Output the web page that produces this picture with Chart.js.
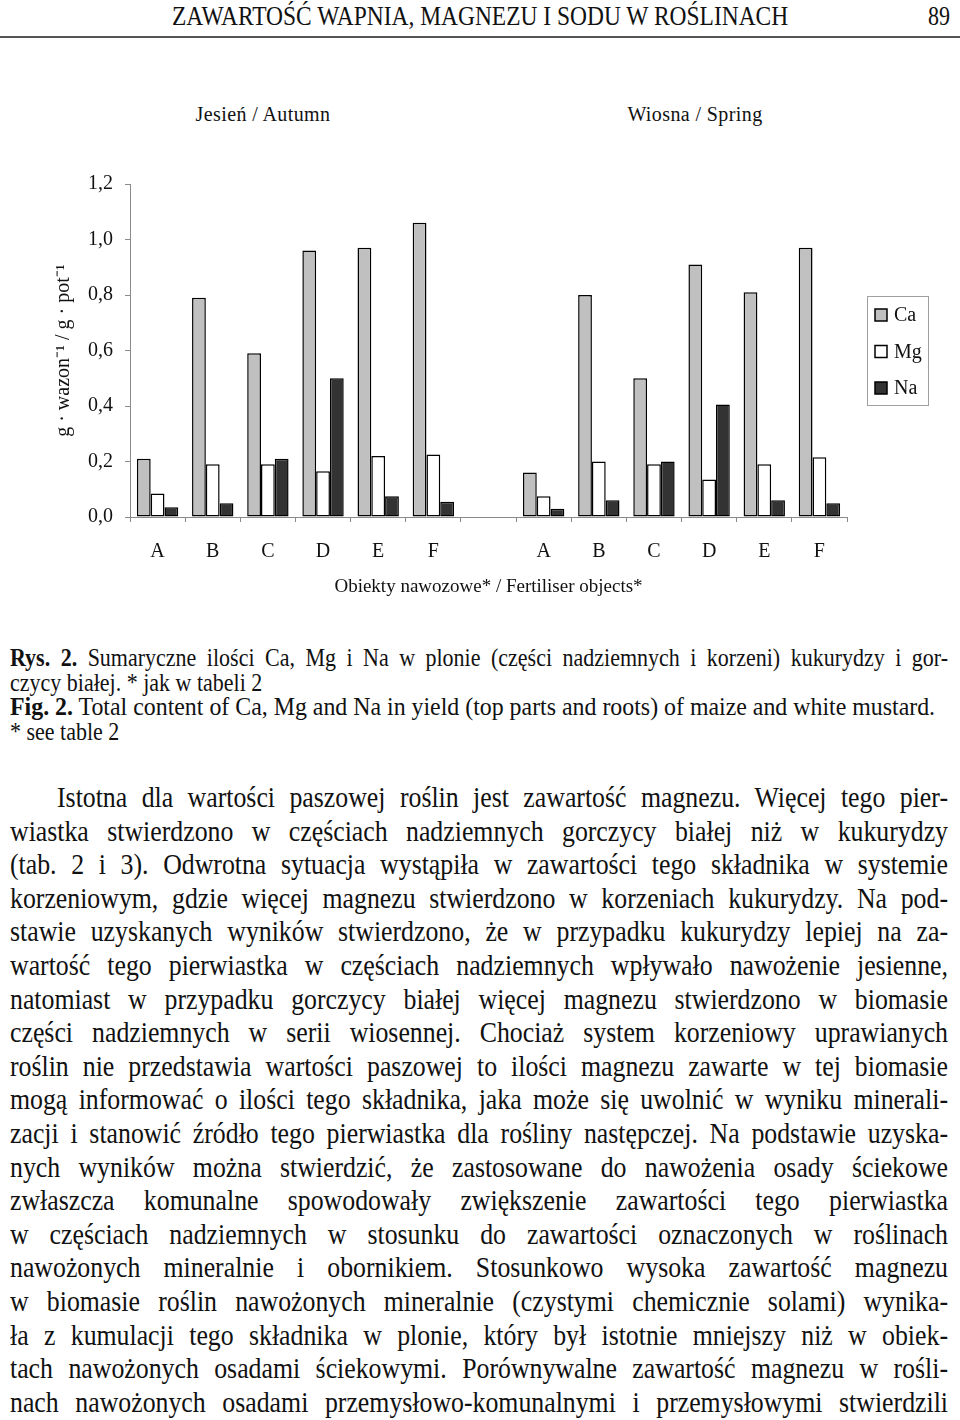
<!DOCTYPE html>
<html lang="pl">
<head>
<meta charset="utf-8">
<script src="https://cdn.jsdelivr.net/npm/chart.js@4.4.1/dist/chart.umd.min.js"></script>
<style>
  html, body { margin: 0; padding: 0; background: #fff; }
  body { width: 960px; height: 1420px; position: relative; overflow: hidden;
         font-family: "Liberation Serif", "Times New Roman", serif; color: #111; }
  .ln { position: absolute; white-space: nowrap; display: inline-block; transform-origin: 0 50%; }
  .center { position: absolute; white-space: nowrap; transform: translateX(-50%); }
  #rule { position: absolute; left: 0; top: 36px; width: 960px; height: 2px; background: #555; }
  #chartBox { position: absolute; left: 0; top: 150px; width: 960px; height: 460px; }
</style>
</head>
<body>
<div id="rule"></div>
<div class="center" style="left:263px;top:103px;font-size:20px;letter-spacing:0.4px">Jesień / Autumn</div>
<div class="center" style="left:695px;top:103px;font-size:20px;letter-spacing:0.4px">Wiosna / Spring</div>
<div id="chartBox"><canvas id="chart"></canvas></div>
<div id="text"></div>

<script>
// fertiliser objects, autumn A-F, an empty gap slot, spring A-F
const categories = ["A", "B", "C", "D", "E", "F", "", "A", "B", "C", "D", "E", "F"];
const caValues = [0.21, 0.79, 0.59, 0.96, 0.97, 1.06, null, 0.16, 0.80, 0.50, 0.91, 0.81, 0.97];
const mgValues = [0.085, 0.19, 0.19, 0.165, 0.22, 0.225, null, 0.075, 0.20, 0.19, 0.135, 0.19, 0.215];
const naValues = [0.035, 0.05, 0.21, 0.50, 0.075, 0.055, null, 0.03, 0.06, 0.20, 0.405, 0.06, 0.05];
const seriesNames = ["Ca", "Mg", "Na"];
const yTickLabels = ["0,0", "0,2", "0,4", "0,6", "0,8", "1,0", "1,2"];

const serif = "'Liberation Serif', 'Times New Roman', serif";

// legend drawn as a framed box next to the plot
const boxLegend = {
  id: "boxLegend",
  afterDraw(chart) {
    const ctx = chart.ctx;
    const x = chart.chartArea.right + 20;
    const y = chart.chartArea.top + 112;
    ctx.save();
    ctx.strokeStyle = "#a0a0a0";
    ctx.lineWidth = 1;
    ctx.strokeRect(x + 0.5, y + 0.5, 61, 109);
    ctx.font = "20px " + serif;
    ctx.textBaseline = "middle";
    chart.data.datasets.forEach((ds, i) => {
      const cy = y + 19 + i * 36.5;
      ctx.fillStyle = ds.backgroundColor;
      ctx.fillRect(x + 8, cy - 6, 12, 12);
      ctx.strokeStyle = "#000";
      ctx.lineWidth = 1.5;
      ctx.strokeRect(x + 8, cy - 6, 12, 12);
      ctx.fillStyle = "#111";
      ctx.fillText(ds.label, x + 27, cy + 1);
    });
    ctx.restore();
  },
};

function addLine(html, left, top, size, opts) {
  const d = document.createElement("div");
  d.className = "ln";
  d.style.left = left + "px";
  d.style.top = top + "px";
  d.style.fontSize = size + "px";
  d.style.lineHeight = opts.lh + "px";
  d.innerHTML = html;
  document.getElementById("text").appendChild(d);
  const natural = d.offsetWidth;
  let scale = opts.scale;
  if (opts.fit) {
    scale = opts.width / natural;
  } else if (opts.width) {
    scale = Math.min(opts.scale, (opts.width - 2) / natural);
    if (opts.justify) {
      d.style.width = opts.width / scale + "px";
      d.style.whiteSpace = "normal";
      d.style.textAlignLast = "justify";
      d.style.textAlign = "justify";
    }
  }
  d.style.transform = "scaleX(" + scale + ")";
  return d;
}

function buildText() {
  // running head
  addLine("ZAWARTOŚĆ WAPNIA, MAGNEZU I SODU W ROŚLINACH", 172, 2, 28, { lh: 28, width: 616, fit: true });
  addLine("89", 928, 2, 28, { lh: 28, width: 22, fit: true });

  // caption
  const cap = { lh: 24.5, scale: 0.88 };
  addLine("<b>Rys. 2.</b> Sumaryczne ilości Ca, Mg i Na w plonie (części nadziemnych i korzeni) kukurydzy i gor-", 10, 646, 25, Object.assign({ width: 938, justify: true }, cap));
  addLine("czycy białej. * jak w tabeli 2", 10, 670.5, 25, cap);
  addLine("<b>Fig. 2.</b> Total content of Ca, Mg and Na in yield (top parts and roots) of maize and white mustard.", 10, 695, 25, Object.assign({ width: 925, fit: true }, cap));
  addLine("* see table 2", 10, 719.5, 25, cap);

  const body = [
    "Istotna dla wartości paszowej roślin jest zawartość magnezu. Więcej tego pier-",
    "wiastka stwierdzono w częściach nadziemnych gorczycy białej niż w kukurydzy",
    "(tab. 2 i 3). Odwrotna sytuacja wystąpiła w zawartości tego składnika w systemie",
    "korzeniowym, gdzie więcej magnezu stwierdzono w korzeniach kukurydzy. Na pod-",
    "stawie uzyskanych wyników stwierdzono, że w przypadku kukurydzy lepiej na za-",
    "wartość tego pierwiastka w częściach nadziemnych wpływało nawożenie jesienne,",
    "natomiast w przypadku gorczycy białej więcej magnezu stwierdzono w biomasie",
    "części nadziemnych w serii wiosennej. Chociaż system korzeniowy uprawianych",
    "roślin nie przedstawia wartości paszowej to ilości magnezu zawarte w tej biomasie",
    "mogą informować o ilości tego składnika, jaka może się uwolnić w wyniku minerali-",
    "zacji i stanowić źródło tego pierwiastka dla rośliny następczej. Na podstawie uzyska-",
    "nych wyników można stwierdzić, że zastosowane do nawożenia osady ściekowe",
    "zwłaszcza komunalne spowodowały zwiększenie zawartości tego pierwiastka",
    "w częściach nadziemnych w stosunku do zawartości oznaczonych w roślinach",
    "nawożonych mineralnie i obornikiem. Stosunkowo wysoka zawartość magnezu",
    "w biomasie roślin nawożonych mineralnie (czystymi chemicznie solami) wynika-",
    "ła z kumulacji tego składnika w plonie, który był istotnie mniejszy niż w obiek-",
    "tach nawożonych osadami ściekowymi. Porównywalne zawartość magnezu w rośli-",
    "nach nawożonych osadami przemysłowo-komunalnymi i przemysłowymi stwierdzili",
  ];
  body.forEach((t, i) => {
    const left = i === 0 ? 57 : 10;
    addLine(t, left, 780 + i * 33.6, 30, { lh: 33.6, scale: 0.86, width: 948 - left, justify: true });
  });
}

document.addEventListener("DOMContentLoaded", () => {
  buildText();

  const ctx = document.getElementById("chart").getContext("2d");
  new Chart(ctx, {
    type: "bar",
    data: {
      labels: categories,
      datasets: [
        { label: seriesNames[0], data: caValues, backgroundColor: "#c0c0c0" },
        { label: seriesNames[1], data: mgValues, backgroundColor: "#ffffff" },
        { label: seriesNames[2], data: naValues, backgroundColor: "#333333" },
      ].map((ds) => Object.assign(ds, {
        borderColor: "#000",
        borderWidth: 1.5,
        borderSkipped: false,
        categoryPercentage: 0.75,
        barPercentage: 1.0,
      })),
    },
    options: {
      responsive: true,
      maintainAspectRatio: false,
      animation: false,
      layout: { padding: { left: 0, top: 34, right: 113, bottom: 0 } },
      scales: {
        x: {
          offset: true,
          grid: { display: true, offset: true, drawOnChartArea: false, tickLength: 5, color: "#8a8a8a" },
          border: { color: "#8a8a8a" },
          ticks: { color: "#111", padding: 18, autoSkip: false, maxRotation: 0, font: { family: serif, size: 20 } },
          title: {
            display: true,
            text: "Obiekty nawozowe* / Fertiliser objects*",
            color: "#111",
            font: { family: serif, size: 19 },
            padding: { top: 0, bottom: 12 },
          },
          afterFit(scale) { scale.height = 93; },
        },
        y: {
          min: 0,
          max: 1.2,
          ticks: {
            stepSize: 0.2,
            color: "#111",
            padding: 12,
            font: { family: serif, size: 20 },
            callback: (v, i) => yTickLabels[i],
          },
          grid: { display: true, drawOnChartArea: false, tickLength: 5, color: "#8a8a8a" },
          border: { color: "#8a8a8a" },
          title: {
            display: true,
            text: "g · wazon⁻¹ / g · pot⁻¹",
            color: "#111",
            font: { family: serif, size: 20 },
            padding: { top: 52, bottom: 0, left: 52, right: 0 },
          },
          afterFit(scale) { scale.width = 130; },
        },
      },
      plugins: {
        legend: { display: false },
        tooltip: { enabled: false },
      },
    },
    plugins: [boxLegend],
  });
});
</script>
</body>
</html>
